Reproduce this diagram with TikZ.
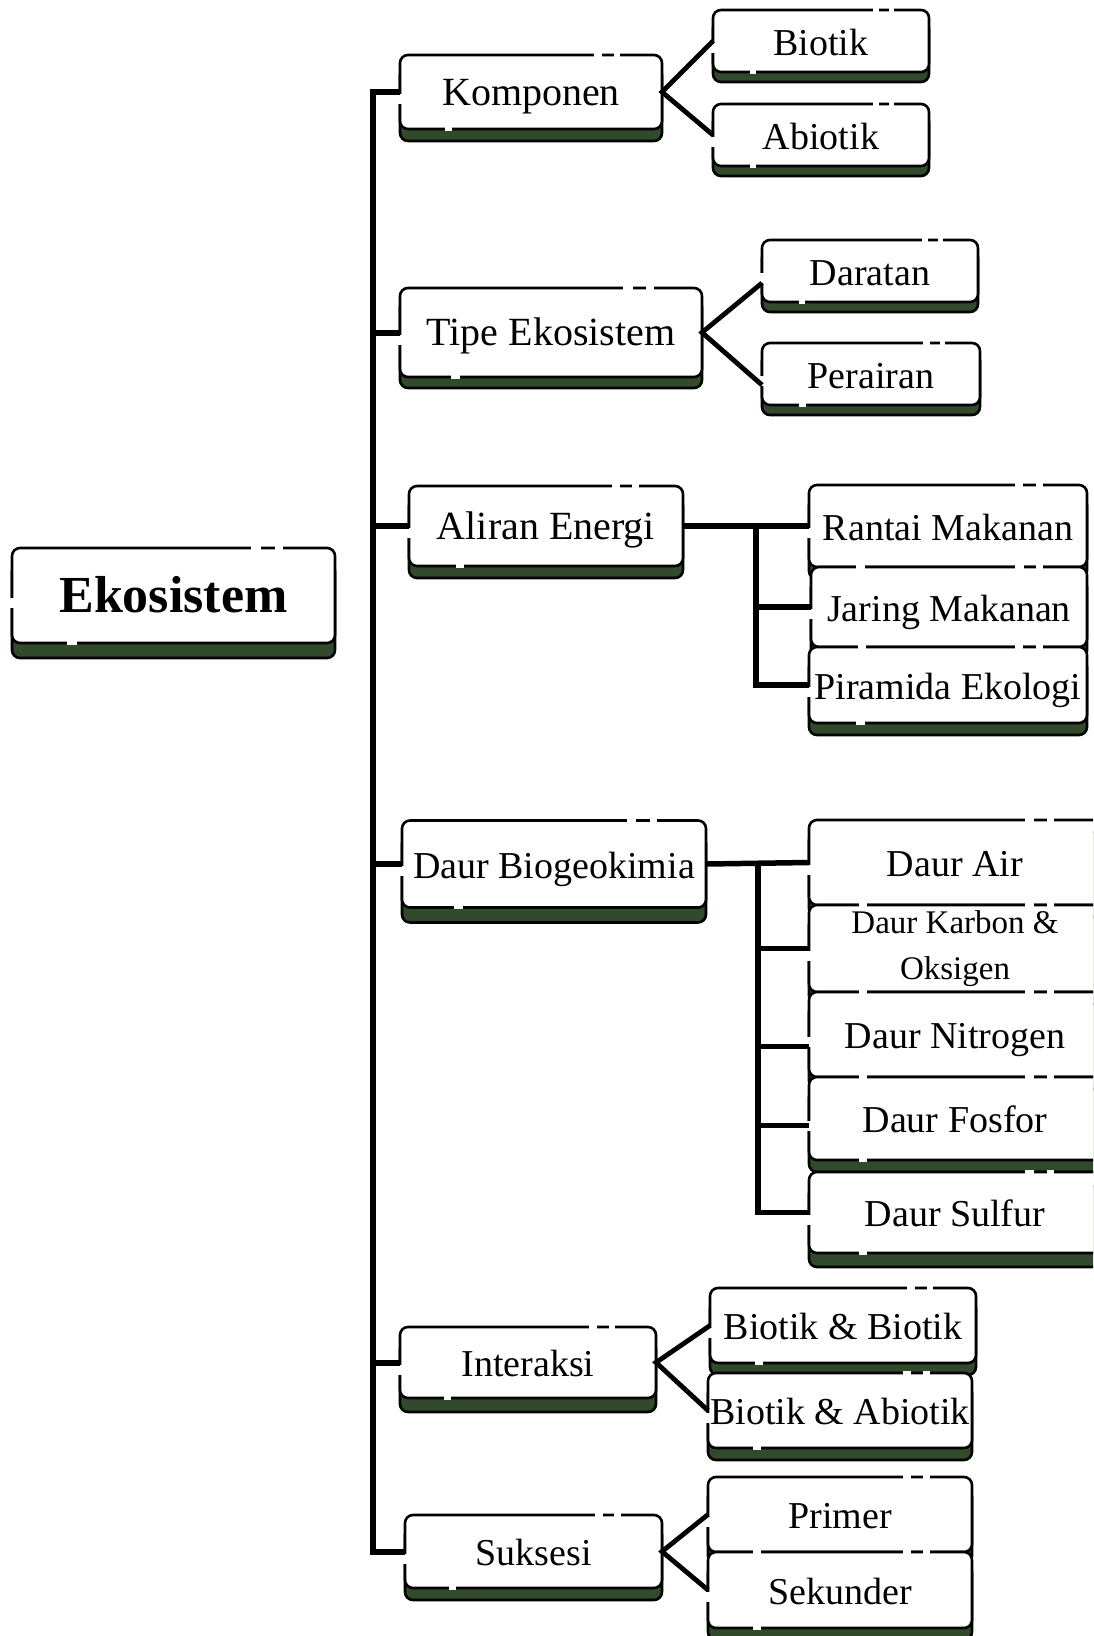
\documentclass[tikz,border=0pt]{standalone}
\usepackage{fontspec}
\setmainfont{Liberation Serif}
\usetikzlibrary{calc}
\usetikzlibrary{shadows}
\definecolor{ekoGreen}{RGB}{50,74,44}
\tikzset{boxBase/.style={draw, line width=2.6pt, rounded corners=8pt, fill=white, inner sep=0pt, outer sep=0pt, general shadow={shadow yshift=#1, fill=ekoGreen, draw=black, line width=2.6pt}}, boxBase/.default=-12pt}
\tikzset{mapBox/.style={boxBase=#1, text height=35pt, text depth=7pt, font=\fontsize{38}{46}\selectfont}, mapBox/.default=-12pt}
\tikzset{mainBox/.style={boxBase=#1, text height=34pt, text depth=8pt, font=\fontsize{40}{48}\selectfont}, mainBox/.default=-12pt}
\tikzset{rootBox/.style={boxBase=-15pt, text height=42pt, text depth=8pt, font=\fontsize{52}{60}\selectfont\bfseries}}
\tikzset{twoLine/.style={boxBase, align=center, font=\fontsize{33}{46}\selectfont}}
\tikzset{spine/.style={line width=6pt}}
\tikzset{bus/.style={line width=5.5pt}}
\tikzset{fork/.style={line width=4.8pt}}
\tikzset{gapLine/.style={white, line width=3.2pt}}
\newcommand{\boxgaps}[1]{%
  \draw[gapLine] ($(#1.north west)!0.74!(#1.north east)$) -- ($(#1.north west)!0.77!(#1.north east)$)
    ($(#1.north west)!0.815!(#1.north east)$) -- ($(#1.north west)!0.84!(#1.north east)$)
    ($(#1.south west)!0.17!(#1.south east)$) -- ($(#1.south west)!0.20!(#1.south east)$)
    ([yshift=-2pt]#1.west) -- ([yshift=-12pt]#1.west);}

\begin{document}
\begin{tikzpicture}[x=1pt, y=-1pt]
\useasboundingbox (0,0) rectangle (1093,1636);
\clip (0,0) rectangle (1093,1636);
\fill[white] (0,0) rectangle (1093,1636);

\node[rootBox, minimum width=323, minimum height=95] (eko) at (173.5, 595.5) {Ekosistem};

\node[mainBox, minimum width=262, minimum height=74] (komp) at (531, 92) {Komponen};
\node[mapBox=-10pt, minimum width=216, minimum height=62] (biotik) at (821, 41) {Biotik};
\node[mapBox=-10pt, minimum width=216, minimum height=62] (abiotik) at (821, 135) {Abiotik};

\node[mainBox=-11pt, minimum width=302, minimum height=89] (tipe) at (551, 332.5) {Tipe Ekosistem};
\node[mapBox=-10pt, minimum width=216, minimum height=62] (darat) at (870, 271) {Daratan};
\node[mapBox=-10pt, minimum width=218, minimum height=62] (perair) at (871, 374) {Perairan};

\node[mainBox, minimum width=274, minimum height=80] (aliran) at (546, 526) {Aliran Energi};
\node[mapBox, minimum width=278, minimum height=82] (rantai) at (948, 526) {Rantai Makanan};
\node[mapBox, minimum width=276, minimum height=80] (jaring) at (949, 607) {Jaring Makanan};
\node[mapBox, minimum width=278, minimum height=76] (piramida) at (948, 685) {Piramida Ekologi};

\node[mapBox=-15pt, minimum width=304, minimum height=87] (daur) at (554, 864) {Daur Biogeokimia};
\node[mapBox, minimum width=292, minimum height=85] (dair) at (955, 862.5) {Daur Air};
\node[twoLine, minimum width=292, minimum height=87] (dkarbon) at (955, 948.5) {Daur Karbon \&\\Oksigen};
\node[mapBox, minimum width=292, minimum height=85] (dnitro) at (955, 1034.5) {Daur Nitrogen};
\node[mapBox, minimum width=292, minimum height=83] (dfosfor) at (955, 1118.5) {Daur Fosfor};
\node[mapBox=-14pt, minimum width=292, minimum height=81] (dsulfur) at (955, 1212.5) {Daur Sulfur};

\node[mapBox=-14pt, minimum width=256, minimum height=71] (inter) at (528, 1362.5) {Interaksi};
\node[mapBox, minimum width=266, minimum height=75] (bb) at (843, 1325.5) {Biotik \& Biotik};
\node[mapBox, minimum width=264, minimum height=75] (ba) at (840, 1410.5) {Biotik \& Abiotik};

\node[mapBox, minimum width=257, minimum height=73] (suk) at (533.5, 1551.5) {Suksesi};
\node[mapBox, minimum width=264, minimum height=75] (primer) at (840, 1514.5) {Primer};
\node[mapBox, minimum width=264, minimum height=76] (sekunder) at (840, 1590) {Sekunder};

\foreach \b in {eko,komp,biotik,abiotik,tipe,darat,perair,aliran,rantai,jaring,piramida,daur,dair,dkarbon,dnitro,dfosfor,dsulfur,inter,bb,ba,suk,primer,sekunder} {\boxgaps{\b}}

\coordinate (spineTop) at (373, 92);
\coordinate (aliranBus) at (756, 526);
\coordinate (daurBus) at (758, 864);

\draw[spine] (komp.west) -- (komp.west -| spineTop) -- (suk.west -| spineTop) -- (suk.west);
\draw[spine] (tipe.west -| spineTop) -- (tipe.west);
\draw[spine] (aliran.west -| spineTop) -- (aliran.west);
\draw[spine] (daur.west -| spineTop) -- (daur.west);
\draw[spine] (inter.west -| spineTop) -- (inter.west);

\draw[fork] (biotik.west) -- (komp.east) -- (abiotik.west);
\draw[fork] ([yshift=-12pt]darat.west) -- (tipe.east) -- ([yshift=-11pt]perair.west);
\draw[fork] (bb.west) -- (inter.east) -- (ba.west);
\draw[fork] (primer.west) -- (suk.east) -- (sekunder.west);

\draw[bus] (aliran.east) -- (rantai.west);
\draw[bus] (rantai.west -| aliranBus) -- (piramida.west -| aliranBus) -- (piramida.west);
\draw[bus] (jaring.west -| aliranBus) -- (jaring.west);

\draw[bus] (daur.east) -- (dair.west);
\draw[bus] (dair.west -| daurBus) -- (dsulfur.west -| daurBus) -- (dsulfur.west);
\draw[bus] (dkarbon.west -| daurBus) -- (dkarbon.west);
\draw[bus] ([yshift=-12pt]dnitro.west -| daurBus) -- ([yshift=-12pt]dnitro.west);
\draw[bus] ([yshift=-7pt]dfosfor.west -| daurBus) -- ([yshift=-7pt]dfosfor.west);
\end{tikzpicture}
\end{document}
